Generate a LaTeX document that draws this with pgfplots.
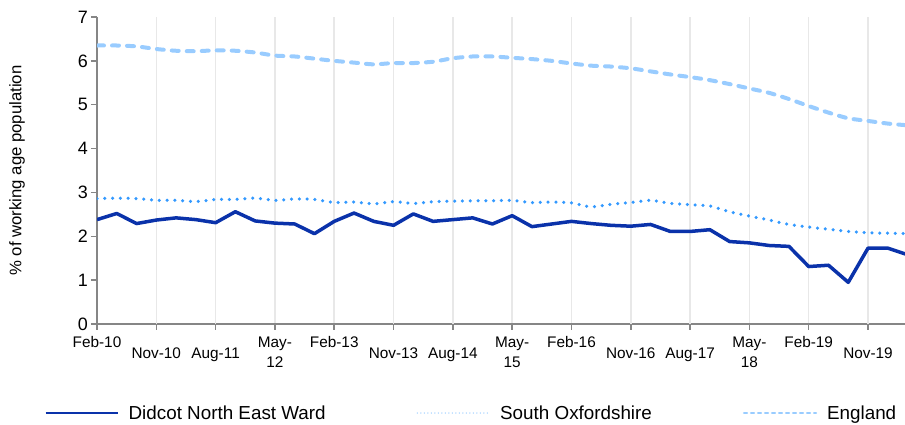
\documentclass[border=0pt]{standalone}
\usepackage{pgfplots}
\pgfplotsset{compat=1.18}
\usepackage{pgfplotstable}
\usepackage{fontspec}
\setmainfont{Liberation Sans}
\definecolor{didcot}{HTML}{0A32AA}
\definecolor{soxon}{HTML}{3399FF}
\definecolor{england}{HTML}{99CCFF}
\definecolor{axisgrey}{HTML}{868686}
\definecolor{gridgrey}{HTML}{E8E8E8}

% quarterly claimant rate, Feb-10 = 0
\pgfplotstableread{
q didcot soxon england
0 2.38 2.86 6.35
1 2.52 2.87 6.35
2 2.29 2.86 6.33
3 2.37 2.82 6.27
4 2.42 2.82 6.23
5 2.38 2.79 6.22
6 2.31 2.84 6.24
7 2.56 2.84 6.23
8 2.35 2.87 6.19
9 2.30 2.82 6.12
10 2.28 2.85 6.10
11 2.06 2.84 6.05
12 2.34 2.77 6.00
13 2.53 2.78 5.96
14 2.34 2.74 5.92
15 2.25 2.79 5.95
16 2.51 2.75 5.95
17 2.34 2.79 5.98
18 2.38 2.80 6.06
19 2.42 2.81 6.10
20 2.28 2.81 6.10
21 2.47 2.82 6.07
22 2.22 2.77 6.04
23 2.28 2.78 6.00
24 2.34 2.76 5.94
25 2.29 2.67 5.89
26 2.25 2.73 5.87
27 2.23 2.77 5.83
28 2.27 2.82 5.76
29 2.11 2.75 5.69
30 2.11 2.72 5.63
31 2.15 2.69 5.56
32 1.88 2.56 5.47
33 1.85 2.46 5.37
34 1.79 2.37 5.27
35 1.77 2.27 5.13
36 1.31 2.21 4.97
37 1.34 2.16 4.82
38 0.95 2.11 4.69
39 1.73 2.08 4.63
40 1.73 2.07 4.57
41 1.58 2.06 4.53
}\rates

\begin{document}
\begin{tikzpicture}
\path[use as bounding box] (0,0) rectangle (905bp,425bp);
\begin{axis}[
  at={(97bp,101bp)}, anchor=south west,
  scale only axis, width=808bp, height=307bp,
  xmin=0, xmax=40.87, ymin=0, ymax=7,
  ytick={0,1,...,7},
  xtick={0,9,12,21,24,33,36},
  xticklabels={Feb-10,May-\\12,Feb-13,May-\\15,Feb-16,May-\\18,Feb-19},
  extra x ticks={3,6,15,18,27,30,39},
  extra x tick labels={Nov-10,Aug-11,Nov-13,Aug-14,Nov-16,Aug-17,Nov-19},
  extra x tick style={grid=major, xticklabel style={yshift=-11bp}},
  xmajorgrids, major grid style={gridgrey, line width=1.5bp},
  axis x line=bottom, axis y line=left,
  axis line style={axisgrey, line width=1.8bp, -},
  tick align=outside, major tick length=6bp,
  every tick/.style={axisgrey, line width=1.5bp},
  /pgf/number format/assume math mode=true,
  yticklabel style={font=\fontsize{18}{20}\selectfont, inner sep=3bp},
  xticklabel style={font=\fontsize{15.4}{20.5}\selectfont, align=center, yshift=-3bp},
  ylabel={\% of working age population},
  every axis y label/.style={at={(axis description cs:-0.099,0.5)}, rotate=90, anchor=center, font=\fontsize{16.8}{20}\selectfont},
  legend columns=3,
  legend cell align=left,
  legend style={draw=none, fill=none, at={(axis description cs:-0.069,-0.29)}, anchor=west,
    font=\fontsize{18.9}{20}\selectfont,
    /tikz/every odd column/.append style={column sep=8bp},
    /tikz/every even column/.append style={column sep=89bp}},
  legend image code/.code={\draw[#1] (0bp,0bp) -- (72bp,0bp);},
]
\addplot[didcot, line width=3.5bp, line join=round, legend image post style={line width=2.2bp}] table[x=q, y=didcot] {\rates};
\addlegendentry{Didcot North East Ward}
\addplot[soxon, line width=3.5bp, line cap=round, dash pattern=on 0bp off 7.8bp, smooth, tension=0.4,
  legend image post style={soxon!45, line width=1.5bp, dash pattern=on 0bp off 3.5bp}] table[x=q, y=soxon] {\rates};
\addlegendentry{South Oxfordshire}
\addplot[england, line width=4bp, line cap=round, dash pattern=on 7bp off 8bp, smooth, tension=0.4,
  legend image post style={line width=2.2bp, dash pattern=on 3bp off 4bp}] table[x=q, y=england] {\rates};
\addlegendentry{England}
\end{axis}
\end{tikzpicture}
\end{document}
